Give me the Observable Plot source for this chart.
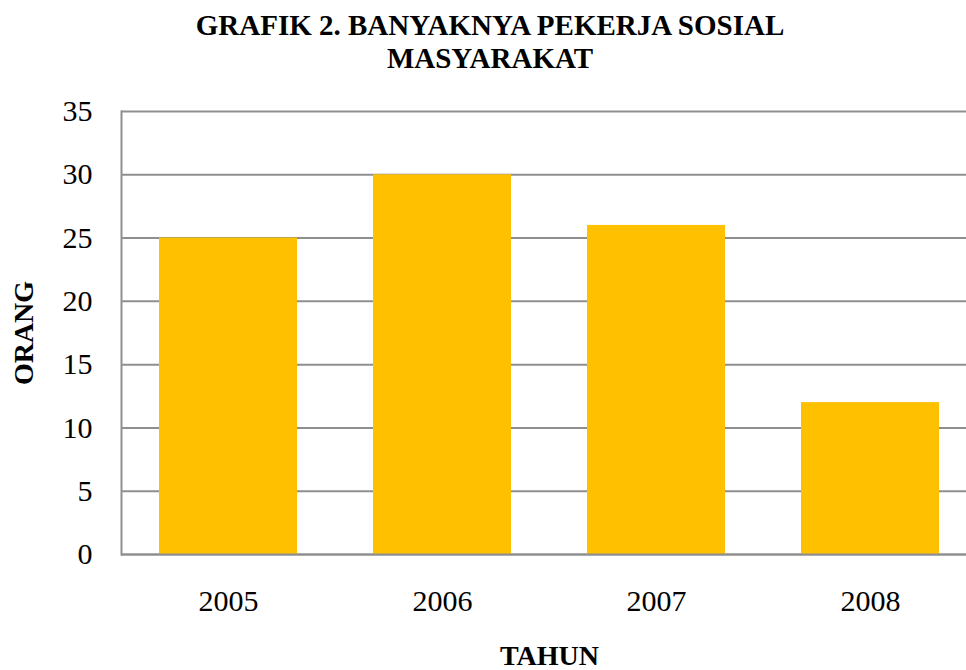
<!DOCTYPE html>
<html>
<head>
<meta charset="utf-8">
<script src="https://cdn.jsdelivr.net/npm/d3@7"></script>
<script src="https://cdn.jsdelivr.net/npm/@observablehq/plot@0.6"></script>
<style>
  html, body { margin: 0; padding: 0; background: #fff; }
  body { width: 966px; height: 670px; overflow: hidden; position: relative; }
  #title {
    position: absolute; left: 0; top: 0; width: 980px;
    padding-top: 9px;
    font-family: "Liberation Serif", "Times New Roman", serif;
    font-weight: bold; font-size: 29px; line-height: 33px;
    text-align: center; color: #000;
  }
  #chart { position: absolute; left: 0; top: 90px; width: 977px; }
  #chart svg { max-width: none !important; }
</style>
</head>
<body>
<div id="title">GRAFIK 2. BANYAKNYA PEKERJA SOSIAL<br>MASYARAKAT</div>
<div id="chart"></div>
<script>
const years = ["2005", "2006", "2007", "2008"];
const workers = [25, 30, 26, 12];
const yTicks = [0, 5, 10, 15, 20, 25, 30, 35];
const xLabel = "TAHUN";
const yLabel = "ORANG";

const data = years.map((year, i) => ({ year, value: workers[i] }));

const chart = Plot.plot({
  width: 977,
  height: 580,
  marginLeft: 121,
  marginRight: 0,
  marginTop: 21,
  marginBottom: 116,
  style: { fontFamily: "Liberation Serif, Times New Roman, serif", color: "#000", background: "transparent", overflow: "visible", maxWidth: "none" },
  x: { domain: years, paddingInner: 0.355, paddingOuter: 0.1775, label: null },
  y: { domain: [0, 35], label: null },
  marks: [
    Plot.gridY(yTicks, { stroke: "#8f8f8f", strokeOpacity: 1, strokeWidth: 2 }),
    Plot.barY(data, { x: "year", y: "value", fill: "#FFC000" }),
    Plot.ruleY([0], { stroke: "#8f8f8f", strokeWidth: 2 }),
    Plot.frame({ anchor: "left", stroke: "#8f8f8f", strokeWidth: 2 }),
    Plot.axisY(yTicks, { tickSize: 0, tickPadding: 29, fontSize: 30, label: null }),
    Plot.axisX({ tickSize: 0, tickPadding: 35, fontSize: 30, label: null }),
    Plot.text([yLabel], { frameAnchor: "left", textAnchor: "middle", text: d => d, rotate: -90, dx: -97, fontSize: 28, fontWeight: "bold" }),
    Plot.text([xLabel], { frameAnchor: "bottom", text: d => d, dy: 110, fontSize: 28, fontWeight: "bold" })
  ]
});
document.getElementById("chart").appendChild(chart);
</script>
</body>
</html>
